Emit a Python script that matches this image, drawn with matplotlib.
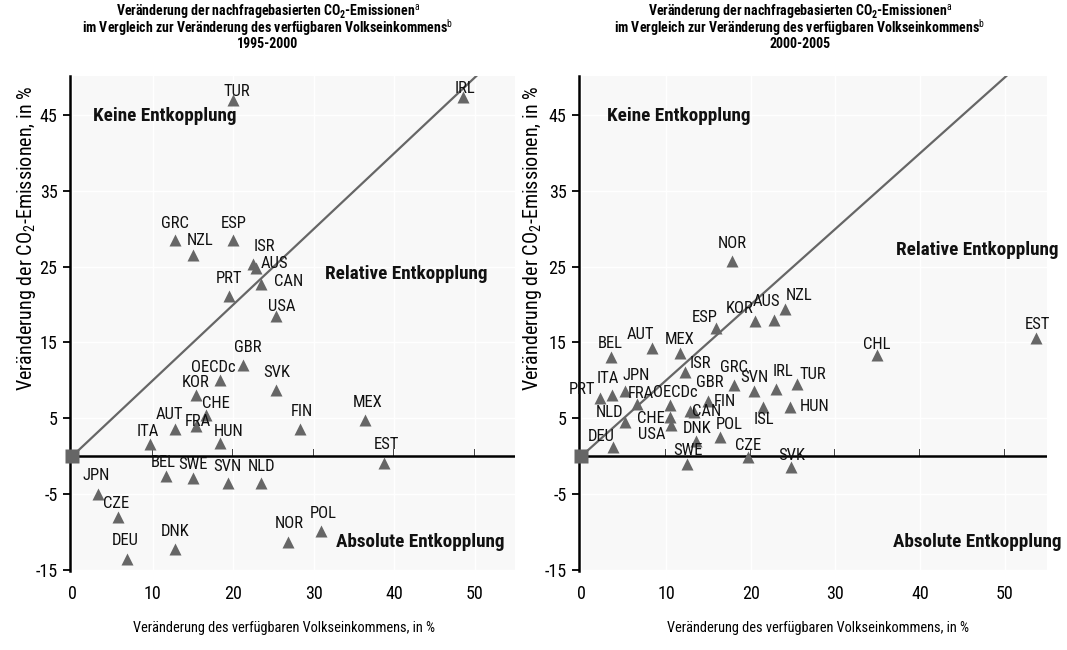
import numpy as np
import matplotlib
matplotlib.use("Agg")
import matplotlib.pyplot as plt
from matplotlib import font_manager


def pick_font():
    for name in ["Liberation Sans Narrow", "DejaVu Sans Condensed", "Roboto Condensed",
                 "Open Sans Condensed", "Liberation Sans"]:
        try:
            font_manager.findfont(name, fallback_to_default=False)
            return name
        except ValueError:
            pass
    return "DejaVu Sans"


FONT = pick_font()
NARROW = FONT != "Liberation Sans"
plt.rcParams["font.family"] = [FONT, "DejaVu Sans"]
plt.rcParams["mathtext.fontset"] = "custom"
plt.rcParams["mathtext.rm"] = FONT
plt.rcParams["mathtext.it"] = FONT + ":italic"
plt.rcParams["mathtext.bf"] = FONT + ":bold"
plt.rcParams["axes.unicode_minus"] = False

# ---- data: 1995-2000 ----
codes_9500 = ["TUR", "IRL", "GRC", "ESP", "NZL", "ISR", "AUS", "CAN", "PRT", "USA",
              "GBR", "OECDc", "SVK", "KOR", "CHE", "FRA", "AUT", "HUN", "ITA", "FIN",
              "MEX", "EST", "BEL", "SWE", "SVN", "NLD", "JPN", "CZE", "DEU", "DNK",
              "NOR", "POL"]
income_9500 = [20.0, 48.6, 12.8, 20.0, 15.0, 22.4, 22.8, 23.5, 19.5, 25.3,
               21.2, 18.4, 25.3, 15.3, 16.6, 15.3, 12.7, 18.4, 9.7, 28.3,
               36.4, 38.7, 11.6, 15.0, 19.3, 23.4, 3.2, 5.7, 6.8, 12.8,
               26.8, 30.9]
co2_9500 = [47.0, 47.4, 28.5, 28.5, 26.6, 25.4, 24.8, 22.7, 21.1, 18.5,
            12.0, 10.0, 8.7, 8.1, 5.4, 3.9, 3.6, 1.7, 1.6, 3.5,
            4.7, -0.9, -2.6, -2.9, -3.6, -3.6, -5.0, -8.0, -13.6, -12.3,
            -11.3, -9.9]

# ---- data: 2000-2005 ----
codes_0005 = ["NOR", "BEL", "AUT", "MEX", "ESP", "KOR", "AUS", "NZL", "ISR", "GRC",
              "SVN", "IRL", "TUR", "HUN", "ISL", "PRT", "ITA", "JPN", "FRA", "OECDc",
              "GBR", "FIN", "CAN", "NLD", "CHE", "USA", "DNK", "POL", "DEU", "SWE",
              "CZE", "SVK", "CHL", "EST"]
income_0005 = [17.8, 3.45, 8.3, 11.6, 15.9, 20.5, 22.7, 24.0, 12.2, 18.0,
               20.4, 23.0, 25.5, 24.6, 21.4, 2.2, 3.6, 5.2, 6.5, 10.5,
               15.0, 13.3, 12.8, 5.1, 10.4, 10.6, 13.5, 16.4, 3.7, 12.5,
               19.7, 24.7, 34.9, 53.7]
co2_0005 = [25.7, 13.1, 14.3, 13.6, 16.9, 17.9, 18.0, 19.4, 11.1, 9.4,
            8.6, 8.8, 9.5, 6.5, 6.5, 7.7, 8.1, 8.6, 6.9, 6.7,
            7.3, 5.8, 5.9, 4.5, 5.1, 4.1, 2.0, 2.5, 1.2, -1.1,
            -0.2, -1.5, 13.3, 15.6]

origin_x = [0]
origin_y = [0]

x_ticks = [0, 10, 20, 30, 40, 50]
y_ticks = [-15, -5, 5, 15, 25, 35, 45]

title_lines = [
    ["Veränderung der nachfragebasierten CO$_\\mathbf{2}$-Emissionen$^\\mathrm{a}$",
     "im Vergleich zur Veränderung des verfügbaren Volkseinkommens$^\\mathrm{b}$",
     "1995-2000"],
    ["Veränderung der nachfragebasierten CO$_\\mathbf{2}$-Emissionen$^\\mathrm{a}$",
     "im Vergleich zur Veränderung des verfügbaren Volkseinkommens$^\\mathrm{b}$",
     "2000-2005"],
]
ylabel = "Veränderung der CO$_2$-Emissionen, in %"
xlabel = "Veränderung des verfügbaren Volkseinkommens, in %"
region_names = ["Keine Entkopplung", "Relative Entkopplung", "Absolute Entkopplung"]

# label offsets in pixels (dx, dy; dy<0 = above the marker)
off_9500 = {
    "TUR": (3, -9), "IRL": (2, -9), "GRC": (0, -17), "ESP": (0, -17), "NZL": (7, -14),
    "ISR": (12, -17), "AUS": (19, -5), "CAN": (27, -3), "PRT": (0, -18), "USA": (6, -9),
    "GBR": (5, -18), "OECDc": (-7, -13), "SVK": (1, -18), "KOR": (0, -12), "CHE": (10, -12),
    "FRA": (2, -5), "AUT": (-5, -14), "HUN": (8, -12), "ITA": (-3, -12), "FIN": (2, -18),
    "MEX": (2, -18), "EST": (3, -18), "BEL": (-2, -13), "SWE": (0, -13), "SVN": (0, -17),
    "NLD": (1, -17), "JPN": (-2, -18), "CZE": (-2, -13), "DEU": (-2, -18), "DNK": (0, -18),
    "NOR": (1, -18), "POL": (2, -17),
}
off_0005 = {
    "NOR": (0, -18), "BEL": (0, -13), "AUT": (-11, -13), "MEX": (0, -14), "ESP": (-11, -11),
    "KOR": (-15, -12), "AUS": (-7, -18), "NZL": (15, -14), "ISR": (16, -8), "GRC": (0, -17),
    "SVN": (0, -13), "IRL": (7, -18), "TUR": (15, -10), "HUN": (25, 0), "ISL": (1, 13),
    "PRT": (-18, -8), "ITA": (-4, -16), "JPN": (11, -15), "FRA": (4, -10), "OECDc": (5, -13),
    "GBR": (1, -18), "FIN": (31, -11), "CAN": (17, 0), "NLD": (-15, -9), "CHE": (-19, 1),
    "USA": (-19, 10), "DNK": (1, -12), "POL": (9, -13), "DEU": (-12, -10), "SWE": (1, -14),
    "CZE": (0, -12), "SVK": (1, -12), "CHL": (0, -11), "EST": (1, -13),
}
regions_9500 = [(2.6, 44.9), (31.4, 24.1), (32.8, -11.4)]
regions_0005 = [(3.0, 44.9), (37.2, 27.2), (36.8, -11.4)]

GREY = "#666666"
YMIN, YMAX = -15.2, 50.2
k = 1.0 if NARROW else 0.86   # shrink text when no narrow face is available

fig = plt.figure(figsize=(10.67, 6.5), dpi=100)
ax1 = fig.add_axes([0.0656, 0.1215, 0.417, 0.7615])
ax2 = fig.add_axes([0.5426, 0.1215, 0.4386, 0.7615])


def draw_panel(ax, codes, income, co2, offsets, regions):
    ax.set_facecolor("#f8f8f8")
    ax.set_xlim(-0.3, 55)
    ax.set_ylim(YMIN, YMAX)
    ax.grid(True, color="white", lw=1.0)
    ax.set_axisbelow(True)

    ax.axline((0, 0), slope=1, color=GREY, lw=1.6, zorder=2)
    ax.axhline(0, color="black", lw=1.8, zorder=3)
    ax.plot(income, co2, "^", color=GREY, ms=8, mec="none", zorder=4, clip_on=False)
    ax.plot(origin_x, origin_y, "s", color=GREY, ms=10, mec="none", zorder=5, clip_on=False)

    for c, x, y in zip(codes, income, co2):
        dx, dy = offsets.get(c, (0, -16))
        ax.annotate(c, (x, y), xytext=(dx, -dy), textcoords="offset pixels",
                    ha="center", va="center", fontsize=12 * k, color="#111111", zorder=6)

    for name, (x, y) in zip(region_names, regions):
        ax.text(x, y, name, ha="left", va="center", fontsize=13.8 * k,
                fontweight="bold", color="#111111", zorder=6)

    for s in ["top", "right", "bottom"]:
        ax.spines[s].set_visible(False)
    ax.spines["left"].set_linewidth(1.8)

    ax.set_yticks(y_ticks)
    ax.set_xticks(x_ticks)
    ax.tick_params(axis="y", direction="out", length=5, width=1.3, labelsize=13 * k, pad=4)
    ax.tick_params(axis="x", length=0, pad=10, labelsize=13 * k)

    # tick marks sitting on the zero line
    frac = (0 - YMIN) / (YMAX - YMIN)
    sec = ax.secondary_xaxis(frac)
    sec.set_xticks(x_ticks[1:])
    sec.tick_params(direction="in", length=5, width=1.3, labelbottom=False, labeltop=False)
    for s in sec.spines.values():
        s.set_visible(False)


draw_panel(ax1, codes_9500, income_9500, co2_9500, off_9500, regions_9500)
draw_panel(ax2, codes_0005, income_0005, co2_0005, off_0005, regions_0005)

for xc, lines in zip([268, 800], title_lines):
    for yc, line in zip([12, 28, 44], lines):
        fig.text(xc / 1067, 1 - yc / 650, line, ha="center", va="center",
                 fontsize=10 * k, fontweight="bold")
for xc in [27, 532]:
    fig.text(xc / 1067, 1 - 238 / 650, ylabel, ha="center", va="center",
             rotation=90, fontsize=14.5 * k)
for xc in [284, 818]:
    fig.text(xc / 1067, 1 - 628 / 650, xlabel, ha="center", va="center", fontsize=10.4 * k)

fig.savefig("out.png", dpi=100)
